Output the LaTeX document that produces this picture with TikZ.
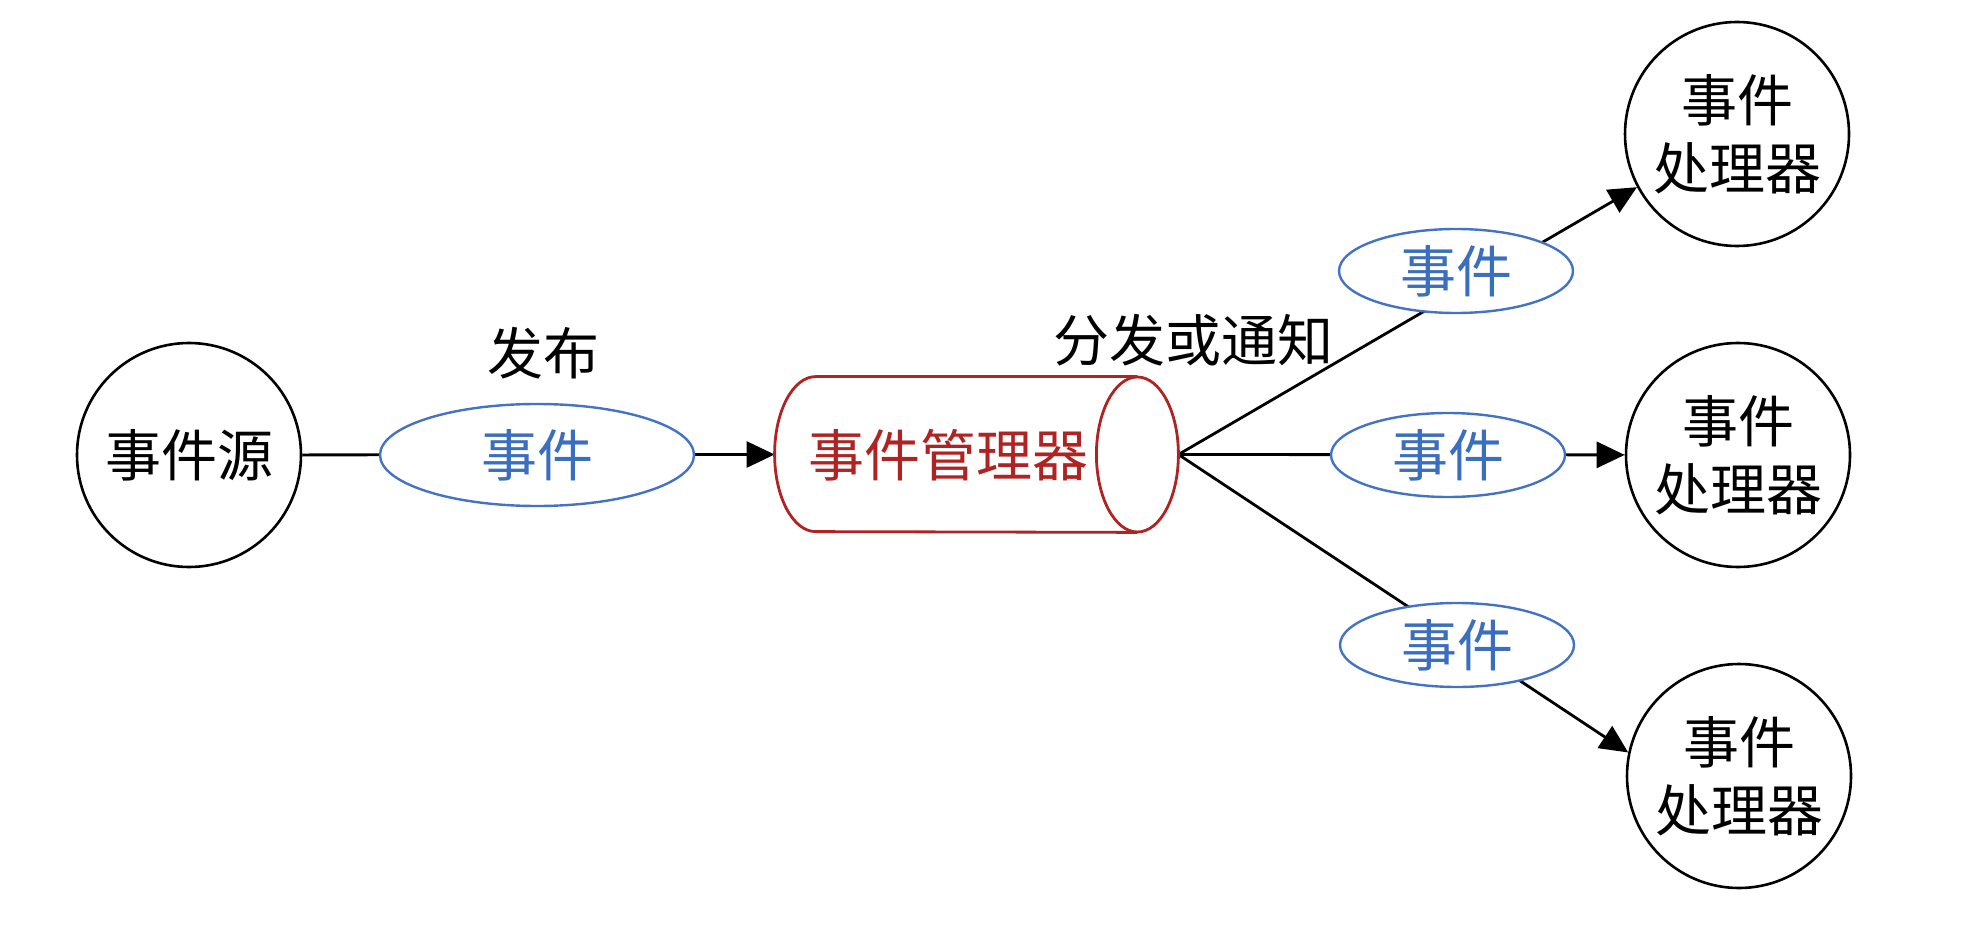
\documentclass[tikz,border=0pt]{standalone}
\usepackage{fontspec}
\setmainfont{Noto Sans CJK SC}
\usetikzlibrary{shapes.geometric,arrows.meta,backgrounds}
\definecolor{evblue}{RGB}{68,114,196}
\definecolor{evtext}{RGB}{58,110,190}
\definecolor{mgrred}{RGB}{175,35,35}
\begin{document}
\begin{tikzpicture}[x=0.5pt,y=-0.5pt,
  base/.style={font=\fontsize{28pt}{34pt}\selectfont},
  proc/.style={base, circle, draw, line width=1.3pt, minimum size=112pt, inner sep=0pt, fill=white, align=center},
  ev/.style={base, ellipse, draw=evblue, line width=1.2pt, text=evtext, fill=white, inner sep=0pt, minimum width=117pt, minimum height=42pt},
  conn/.style={line width=1.4pt, -{Triangle[length=14pt,width=13pt]}},
  mgrline/.style={draw=mgrred, line width=1.4pt},
  lbl/.style={base}]
\useasboundingbox (0,0) rectangle (1974,930);
% nodes
\node[proc] (src) at (189,455) {事件源};
\node[ev, minimum width=157pt, minimum height=51pt] (ev0) at (537,455) {事件};
\node[lbl] (pub) at (543,353) {发布};
\node[draw=none, minimum width=201.5pt, minimum height=77.5pt, inner sep=0pt] (mgr) at (976.5,454.5) {};
\draw[mgrline] ([xshift=-20.5pt]mgr.north east) -- ([xshift=20.5pt]mgr.north west)
  arc[start angle=90, end angle=270, x radius=20.5pt, y radius=38.75pt]
  -- ([xshift=-20.5pt]mgr.south east);
\draw[mgrline] ([xshift=-20.5pt]mgr.east) ellipse[x radius=20.5pt, y radius=38.75pt];
\node[base, text=mgrred] (mgrtext) at (948,455) {事件管理器};
\node[lbl] (dist) at (1193,340) {分发或通知};
\node[ev] (ev1) at (1456,271) {事件};
\node[ev] (ev2) at (1448,455) {事件};
\node[ev] (ev3) at (1457,645) {事件};
\node[proc] (h1) at (1737,134) {事件\\处理器};
\node[proc] (h2) at (1738,455) {事件\\处理器};
\node[proc] (h3) at (1739,776) {事件\\处理器};
% connectors
\begin{scope}[on background layer]
\draw[conn] (src) -- (mgr.west);
\draw[conn] (mgr.east) -- (h1.208);
\draw[conn] (mgr.east) -- (h2);
\draw[conn] (mgr.east) -- (h3.168);
\end{scope}
\end{tikzpicture}
\end{document}
